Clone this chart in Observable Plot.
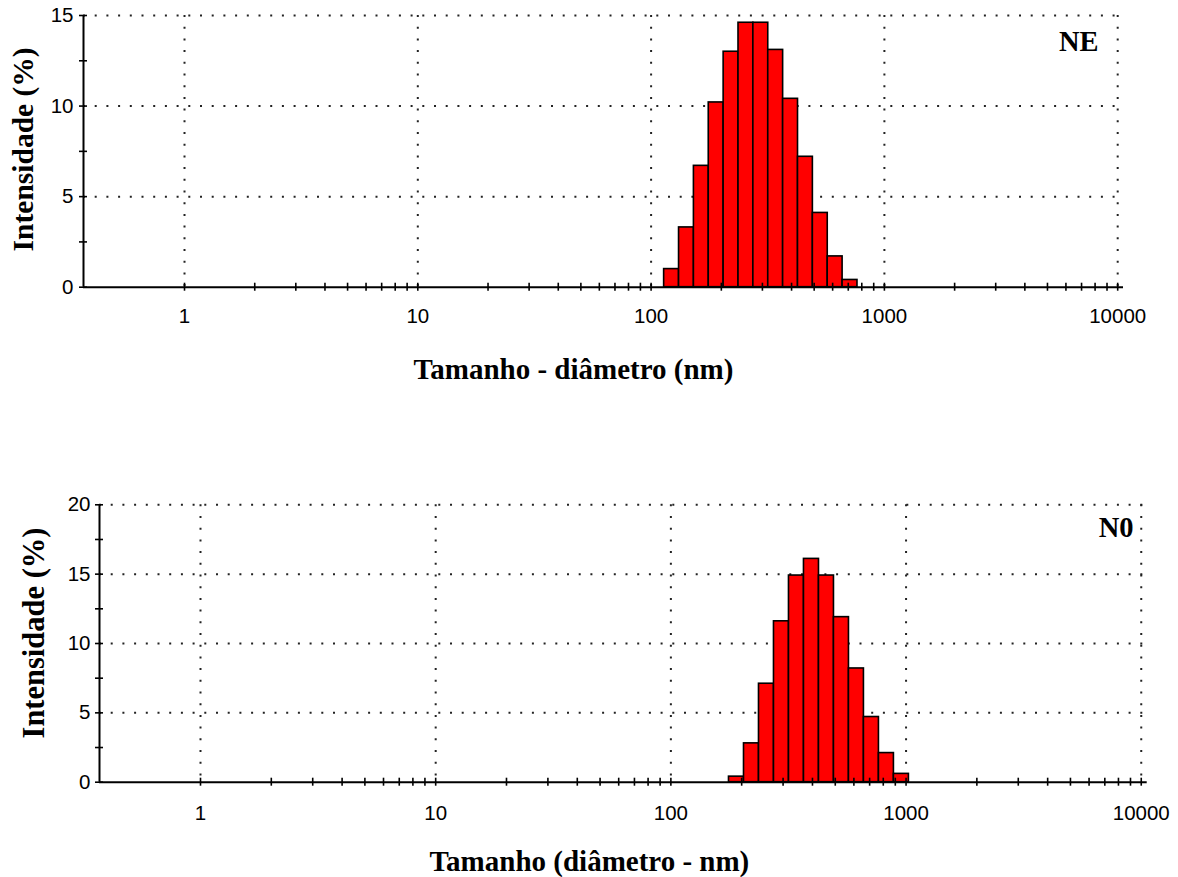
<!DOCTYPE html>
<html>
<head>
<meta charset="utf-8">
<script src="https://cdn.jsdelivr.net/npm/d3@7"></script>
<script src="https://cdn.jsdelivr.net/npm/@observablehq/plot@0.6"></script>
<style>
  html, body { margin: 0; padding: 0; background: #fff; }
  #wrap { position: relative; width: 1178px; height: 877px; overflow: hidden; background: #fff; }
  #wrap svg { position: absolute; left: 0; display: block; background: transparent; }
</style>
</head>
<body>
<div id="wrap"></div>
<script>
// ---- data ----
const sizesNE = [122.4, 141.8, 164.2, 190.1, 220.2, 255.0, 295.3, 342.0, 396.1, 458.7, 531.2, 615.1, 712.4];
const intensNE = [1.0, 3.3, 6.7, 10.2, 13.0, 14.6, 14.6, 13.1, 10.4, 7.2, 4.1, 1.7, 0.4];

const sizesN0 = [190.1, 220.2, 255.0, 295.3, 342.0, 396.1, 458.7, 531.2, 615.1, 712.4, 825.0, 955.4];
const intensN0 = [0.4, 2.8, 7.1, 11.6, 14.9, 16.1, 14.9, 11.9, 8.2, 4.7, 2.1, 0.6];

const binRatio = 1.1583; // ratio between consecutive size classes

const xMajorTicks = [1, 10, 100, 1000, 10000];
const xMinorTicks = [2,3,4,5,6,7,8,9, 20,30,40,50,60,70,80,90, 200,300,400,500,600,700,800,900, 2000,3000,4000,5000,6000,7000,8000,9000];
const yTicksNE = [0, 5, 10, 15];
const yMinorNE = [0, 2.5, 5, 7.5, 10, 12.5, 15];
const yTicksN0 = [0, 5, 10, 15, 20];
const yMinorN0 = [0, 2.5, 5, 7.5, 10, 12.5, 15, 17.5, 20];

const labelNE = "NE";
const labelN0 = "N0";
const xTitleNE = "Tamanho - diâmetro (nm)";
const xTitleN0 = "Tamanho (diâmetro - nm)";
const yTitle = "Intensidade (%)";

const sansFont = "Liberation Sans, Arial, sans-serif";
const serifFont = "Liberation Serif, Times New Roman, serif";

function panel(cfg) {
  const rows = cfg.sizes.map((s, i) => ({
    x1: s / Math.sqrt(binRatio),
    x2: s * Math.sqrt(binRatio),
    y: cfg.values[i]
  }));
  const grid = {stroke: "#222", strokeWidth: 2, strokeDasharray: "2,9.7"};
  return Plot.plot({
    width: 1178,
    height: cfg.height,
    marginLeft: cfg.mL, marginRight: cfg.mR, marginTop: cfg.mT, marginBottom: cfg.mB,
    style: {fontFamily: sansFont, background: "transparent"},
    x: {type: "log", domain: cfg.xDomain},
    y: {domain: cfg.yDomain},
    marks: [
      Plot.ruleY(cfg.yTicks.filter(d => d > 0), {...grid}),
      Plot.ruleX(xMajorTicks, {...grid}),
      Plot.rectY(rows, {x1: "x1", x2: "x2", y: "y", fill: "#ff0000", stroke: "#000", strokeWidth: 1.6}),
      Plot.ruleY([0], {stroke: "#000", strokeWidth: 2}),
      Plot.ruleX([cfg.xDomain[0]], {stroke: "#000", strokeWidth: 2}),
      // crossing tick marks
      Plot.axisX({ticks: [...xMajorTicks, ...xMinorTicks], tickSize: 8, dy: -4, fill: "none", stroke: "#000", strokeWidth: 1.6, label: null}),
      Plot.axisY({ticks: cfg.yMinor, tickSize: 8, dx: 4, fill: "none", stroke: "#000", strokeWidth: 1.6, label: null}),
      // tick labels
      Plot.axisX({ticks: xMajorTicks, tickSize: 0, tickPadding: cfg.xPad, tickFormat: d => String(d), fontSize: 20.5, fontFamily: sansFont, fill: "#000", label: null}),
      Plot.axisY({ticks: cfg.yTicks, tickSize: 0, tickPadding: cfg.yPad, tickFormat: d => String(d), fontSize: 20.5, fontFamily: sansFont, fill: "#000", label: null}),
      // titles
      Plot.text([cfg.xTitle], {text: d => d, frameAnchor: "bottom", lineAnchor: "bottom", dx: cfg.xTitleDx, dy: cfg.xTitleDy, fontSize: 29, fontWeight: "bold", fontFamily: serifFont, fill: "#000"}),
      Plot.text([yTitle], {text: d => d, frameAnchor: "left", rotate: -90, textAnchor: "middle", lineAnchor: "bottom", dx: cfg.yTitleDx, dy: cfg.yTitleDy, fontSize: cfg.yTitleSize, fontWeight: "bold", fontFamily: serifFont, fill: "#000"}),
      Plot.text([cfg.label], {text: d => d, frameAnchor: "top-right", textAnchor: "end", lineAnchor: "bottom", dx: cfg.labDx, dy: cfg.labDy, fontSize: 28.5, fontWeight: "bold", fontFamily: serifFont, fill: "#000"})
    ]
  });
}

const wrap = document.getElementById("wrap");

const chartNE = panel({
  sizes: sizesNE, values: intensNE, height: 400,
  mL: 83, mR: 55, mT: 15, mB: 113.3,
  xDomain: [0.369, 10590], yDomain: [0, 15],
  yTicks: yTicksNE, yMinor: yMinorNE, xPad: 21, yPad: 10,
  xTitle: xTitleNE, xTitleDx: -30, xTitleDy: 91.3,
  yTitleDx: -51, yTitleDy: -2, yTitleSize: 29.5,
  label: labelNE, labDx: -25, labDy: 35
});
chartNE.style.top = "0px";
wrap.appendChild(chartNE);

const chartN0 = panel({
  sizes: sizesN0, values: intensN0, height: 397,
  mL: 99, mR: 31.3, mT: 24.3, mB: 95.3,
  xDomain: [0.372, 10600], yDomain: [0, 20],
  yTicks: yTicksN0, yMinor: yMinorN0, xPad: 23, yPad: 9,
  xTitle: xTitleN0, xTitleDx: -34, xTitleDy: 88.3,
  yTitleDx: -56, yTitleDy: -10.5, yTitleSize: 30.5,
  label: labelN0, labDx: -13.7, labDy: 32.4
});
chartN0.style.top = "480px";
wrap.appendChild(chartN0);
</script>
</body>
</html>
